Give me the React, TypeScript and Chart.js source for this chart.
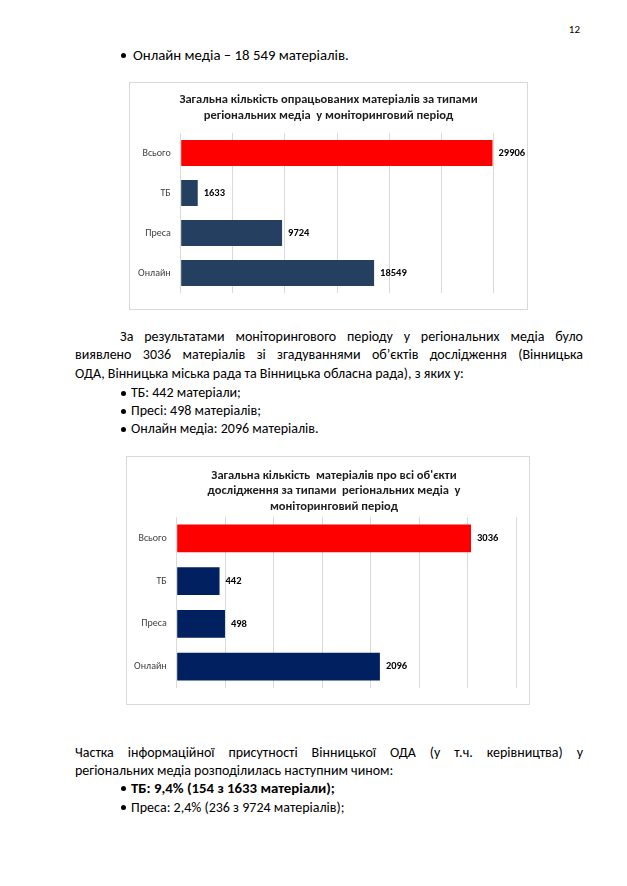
import React, { useEffect, useRef } from 'react';
import { Chart, registerables } from 'chart.js';

Chart.register(...registerables);

// ---------- data ----------
const categories = ['Всього', 'ТБ', 'Преса', 'Онлайн'];
const processedValues = [29906, 1633, 9724, 18549];
const mentionValues = [3036, 442, 498, 2096];
const processedTitle = [
  'Загальна кількість опрацьованих матеріалів за типами',
  'регіональних медіа  у моніторинговий період',
];
const mentionTitle = [
  "Загальна кількість  матеріалів про всі об'єкти",
  'дослідження за типами  регіональних медіа  у',
  'моніторинговий період',
];
const processedAxisMax = 30000;
const processedAxisStep = 5000;
const mentionAxisMax = 3500;
const mentionAxisStep = 500;

const FONT = "Carlito, Lato, 'Open Sans', sans-serif";

type BarChartProps = {
  labels: string[];
  values: number[];
  colors: string[];
  max: number;
  step: number;
  title: string[];
  width: number;
  height: number;
  titleX: number;
  titleYs: number[];
  pad: { left: number; right: number; top: number; bottom: number };
  yWidth: number;
  barPct: number;
};

function BarChart(p: BarChartProps) {
  const ref = useRef<HTMLCanvasElement | null>(null);
  useEffect(() => {
    if (!ref.current) return;
    const titlePlugin = {
      id: 'docTitle',
      afterDraw(chart: any) {
        const ctx = chart.ctx;
        ctx.save();
        ctx.font = `bold 12.5px ${FONT}`;
        ctx.fillStyle = '#1e1e1e';
        ctx.textAlign = 'center';
        ctx.textBaseline = 'middle';
        p.title.forEach((t, i) => ctx.fillText(t, p.titleX, p.titleYs[i]));
        ctx.restore();
      },
    };
    const labelPlugin = {
      id: 'valueLabels',
      afterDatasetsDraw(chart: any) {
        const ctx = chart.ctx;
        const meta = chart.getDatasetMeta(0);
        ctx.save();
        ctx.font = `bold 10.5px ${FONT}`;
        ctx.fillStyle = '#000000';
        ctx.textAlign = 'left';
        ctx.textBaseline = 'middle';
        meta.data.forEach((bar: any, i: number) => {
          ctx.fillText(String(p.values[i]), bar.x + 6, bar.y);
        });
        ctx.restore();
      },
    };
    const chart = new Chart(ref.current, {
      type: 'bar',
      data: {
        labels: p.labels,
        datasets: [
          {
            data: p.values,
            backgroundColor: p.colors,
            borderWidth: 0,
            categoryPercentage: 1,
            barPercentage: p.barPct,
          },
        ],
      },
      options: {
        indexAxis: 'y',
        responsive: false,
        animation: false,
        layout: { padding: p.pad },
        plugins: {
          legend: { display: false },
          title: { display: false },
          tooltip: { enabled: false },
        },
        scales: {
          x: {
            min: 0,
            max: p.max,
            ticks: { display: false, stepSize: p.step },
            grid: { color: '#D9D9D9', drawTicks: false, lineWidth: 1 },
            border: { display: false },
            afterFit: (s: any) => {
              s.height = 0;
            },
          },
          y: {
            ticks: { color: '#404040', font: { family: FONT, size: 10 }, padding: 10 },
            grid: { display: false, drawTicks: false },
            border: { display: false },
            afterFit: (s: any) => {
              s.width = p.yWidth;
            },
          },
        },
      } as any,
      plugins: [titlePlugin, labelPlugin],
    });
    return () => chart.destroy();
  }, []);
  return <canvas ref={ref} width={p.width} height={p.height} style={{ display: 'block' }} />;
}

const textStyle: React.CSSProperties = {
  position: 'absolute',
  fontFamily: FONT,
  fontSize: 14,
  lineHeight: '18px',
  height: 18,
  color: '#000',
  whiteSpace: 'nowrap',
};

function Line(props: { x: number; y: number; w?: number; justify?: boolean; bold?: boolean; children: React.ReactNode; size?: number }) {
  const st: React.CSSProperties = { ...textStyle, left: props.x, top: props.y - 9 };
  if (props.size) st.fontSize = props.size;
  if (props.w) {
    st.width = props.w;
  }
  if (props.justify) {
    st.textAlign = 'justify';
    (st as any).textAlignLast = 'justify';
    st.whiteSpace = 'normal';
  }
  if (props.bold) st.fontWeight = 'bold';
  return <div style={st}>{props.children}</div>;
}

function Bullet(props: { y: number; text: string; bold?: boolean; tx?: number; size?: number }) {
  return (
    <>
      <div
        style={{
          position: 'absolute',
          left: 121,
          top: props.y - 2.5,
          width: 5,
          height: 5,
          borderRadius: '50%',
          background: '#000',
        }}
      />
      <Line x={props.tx ?? 131} y={props.y} bold={props.bold} size={props.size}>
        {props.text}
      </Line>
    </>
  );
}

export default function App() {
  return (
    <div
      style={{
        position: 'absolute',
        left: 0,
        top: 0,
        width: 627,
        height: 886,
        background: '#fff',
        overflow: 'hidden',
      }}
    >
      <div style={{ ...textStyle, fontSize: 11, left: 542, width: 38, textAlign: 'right', top: 30 - 9 }}>12</div>
      <Bullet y={55} tx={133} size={14.8} text="Онлайн медіа – 18 549 матеріалів." />

      <div style={{ position: 'absolute', left: 129, top: 82, border: '1px solid #D9D9D9' }}>
        <BarChart
          labels={categories}
          values={processedValues}
          colors={['#FF0000', '#243F60', '#243F60', '#243F60']}
          max={processedAxisMax}
          step={processedAxisStep}
          title={processedTitle}
          width={397}
          height={226}
          titleX={198.5}
          titleYs={[16.5, 32.5]}
          pad={{ left: 0, right: 33.5, top: 50, bottom: 11 }}
          yWidth={50.7}
          barPct={0.645}
        />
      </div>

      <Line x={120} y={337} w={463} justify>
        За результатами моніторингового періоду у регіональних медіа було
      </Line>
      <Line x={75} y={355} w={508} justify>
        виявлено 3036 матеріалів зі згадуваннями об’єктів дослідження (Вінницька
      </Line>
      <Line x={75} y={373.5}>
        ОДА, Вінницька міська рада та Вінницька обласна рада), з яких у:
      </Line>
      <Bullet y={393} text="ТБ: 442 матеріали;" />
      <Bullet y={411} text="Пресі: 498 матеріалів;" />
      <Bullet y={429} text="Онлайн медіа: 2096 матеріалів." />

      <div style={{ position: 'absolute', left: 126, top: 456, border: '1px solid #D9D9D9' }}>
        <BarChart
          labels={categories}
          values={mentionValues}
          colors={['#FF0000', '#002060', '#002060', '#002060']}
          max={mentionAxisMax}
          step={mentionAxisStep}
          title={mentionTitle}
          width={402}
          height={247}
          titleX={207}
          titleYs={[18.5, 34, 49.5]}
          pad={{ left: 0, right: 13, top: 60, bottom: 12.5 }}
          yWidth={49.7}
          barPct={0.645}
        />
      </div>

      <Line x={75} y={753} w={508} justify>
        Частка інформаційної присутності Вінницької ОДА (у т.ч. керівництва) у
      </Line>
      <Line x={75} y={770.5}>
        регіональних медіа розподілилась наступним чином:
      </Line>
      <Bullet y={788} bold size={14.8} text="ТБ: 9,4% (154 з 1633 матеріали);" />
      <Bullet y={807.5} text="Преса: 2,4% (236 з 9724 матеріалів);" />
    </div>
  );
}
